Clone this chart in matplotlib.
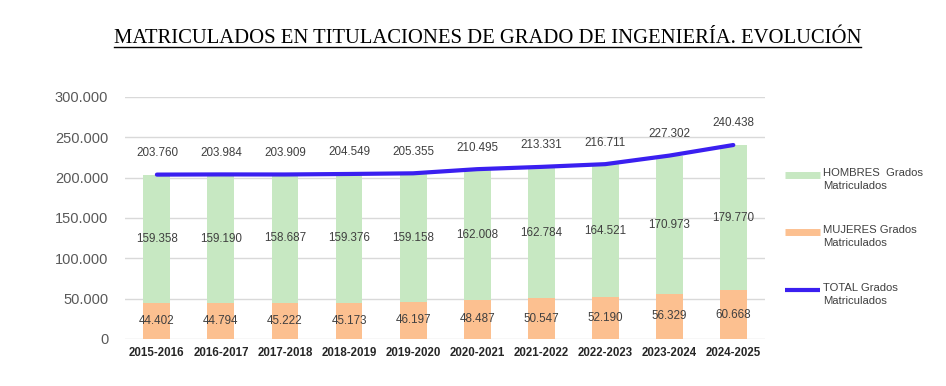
import numpy as np
import matplotlib
matplotlib.use("Agg")
import matplotlib.pyplot as plt
from matplotlib.lines import Line2D
from matplotlib.ticker import FuncFormatter

cursos = ["2015-2016", "2016-2017", "2017-2018", "2018-2019", "2019-2020",
          "2020-2021", "2021-2022", "2022-2023", "2023-2024", "2024-2025"]
mujeres = [44402, 44794, 45222, 45173, 46197, 48487, 50547, 52190, 56329, 60668]
hombres = [159358, 159190, 158687, 159376, 159158, 162008, 162784, 164521, 170973, 179770]
total = [203760, 203984, 203909, 204549, 205355, 210495, 213331, 216711, 227302, 240438]
series = ["HOMBRES  Grados\nMatriculados", "MUJERES Grados\nMatriculados",
          "TOTAL Grados\nMatriculados"]

def miles(v, pos=None):
    return f"{int(round(v)):,}".replace(",", ".")

c_h = "#c7e8c2"
c_m = "#fcc090"
c_t = "#3a1ff0"
txt = "#404040"

plt.rcParams['font.family'] = ['Liberation Sans', 'DejaVu Sans']

W, H = 946, 386
fig = plt.figure(figsize=(W / 100, H / 100), dpi=100)
ax = fig.add_axes([0.132, 0.1218, 0.677, 0.627])

x = np.arange(len(cursos))
w = 0.42
ax.bar(x, mujeres, w, color=c_m, zorder=2)
ax.bar(x, hombres, w, bottom=mujeres, color=c_h, zorder=2)
ax.plot(x, total, color=c_t, lw=3, solid_capstyle='round', zorder=3)

for i in range(len(x)):
    ax.text(x[i], mujeres[i] / 2, miles(mujeres[i]), ha='center', va='center',
            fontsize=8.4, color=txt, zorder=4)
    ax.text(x[i], mujeres[i] + hombres[i] / 2, miles(hombres[i]), ha='center',
            va='center', fontsize=8.4, color=txt, zorder=4)
    ax.annotate(miles(total[i]), (x[i], total[i]), xytext=(0, 15.5),
                textcoords='offset points', ha='center', va='center',
                fontsize=8.4, color=txt, zorder=4)

ax.set_xlim(-0.5, len(cursos) - 0.5)
ax.set_ylim(0, 300000)
ax.set_yticks(np.arange(0, 300001, 50000))
ax.yaxis.set_major_formatter(FuncFormatter(miles))
ax.set_xticks(x)
ax.set_xticklabels(cursos, fontsize=8.3, fontweight='bold', color="#262626")
ax.tick_params(axis='y', length=0, pad=12, labelsize=10.5, labelcolor="#595959")
ax.tick_params(axis='x', length=0, pad=6)
ax.grid(axis='y', color="#d9d9d9", lw=1, zorder=0)
for s in ax.spines.values():
    s.set_visible(False)

# leyenda a mano (estilo Excel: marca alineada con la primera linea)
colores = [c_h, c_m, c_t]
grosor = [5, 5, 3]
for k, yy in enumerate([175, 232, 290]):
    yf = 1 - yy / H
    fig.add_artist(Line2D([785 / W, 820 / W], [yf, yf], color=colores[k], lw=grosor[k],
                          solid_capstyle='butt', transform=fig.transFigure))
    fig.text(823 / W, yf + 7 / H, series[k], ha='left', va='top', fontsize=8.1,
             color=txt, linespacing=1.4)

t = fig.text(0.5155, 0.899, "MATRICULADOS EN TITULACIONES DE GRADO DE INGENIERÍA. EVOLUCIÓN",
             ha='center', va='center', fontsize=14.85, family=['Liberation Serif'],
             color='black')
fig.canvas.draw()
bb = t.get_window_extent().transformed(fig.transFigure.inverted())
fig.add_artist(Line2D([bb.x0, bb.x1], [bb.y0 + 0.004, bb.y0 + 0.004], color='black',
                      lw=1, transform=fig.transFigure))

fig.savefig("out.png", dpi=100, facecolor='white')
